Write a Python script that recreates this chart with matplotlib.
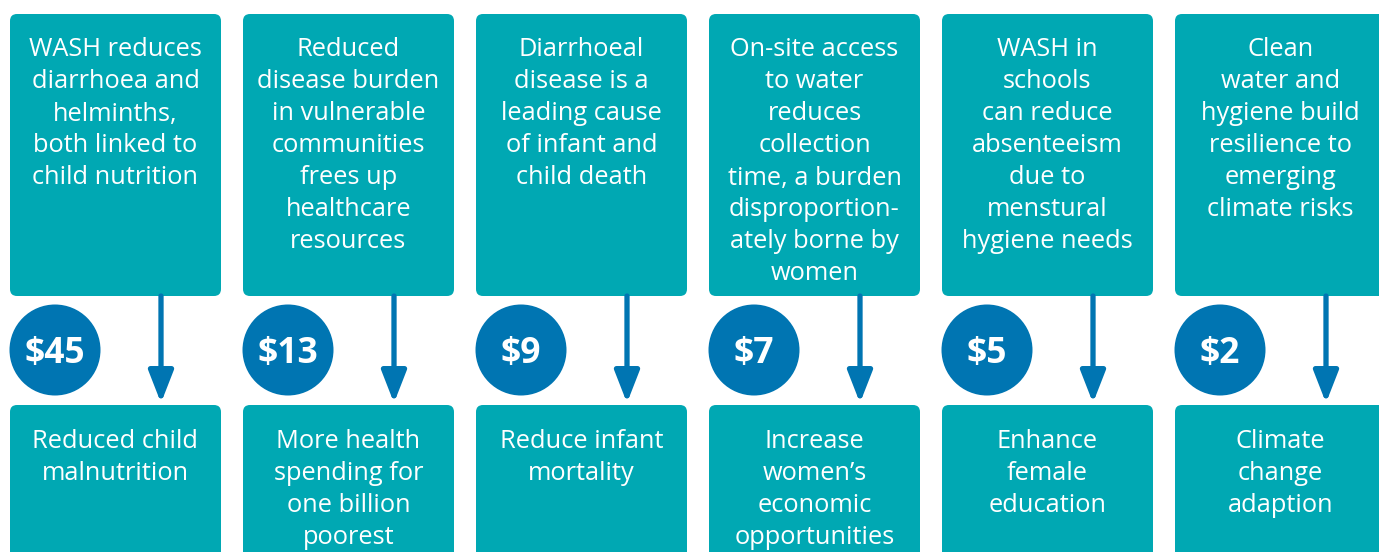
import matplotlib.pyplot as plt
from matplotlib.patches import FancyBboxPatch, Circle

plt.rcParams['font.family'] = ['Open Sans', 'Noto Sans', 'DejaVu Sans']

causes = [
    "WASH reduces\ndiarrhoea and\nhelminths,\nboth linked to\nchild nutrition",
    "Reduced\ndisease burden\nin vulnerable\ncommunities\nfrees up\nhealthcare\nresources",
    "Diarrhoeal\ndisease is a\nleading cause\nof infant and\nchild death",
    "On-site access\nto water\nreduces\ncollection\ntime, a burden\ndisproportion-\nately borne by\nwomen",
    "WASH in\nschools\ncan reduce\nabsenteeism\ndue to\nmenstural\nhygiene needs",
    "Clean\nwater and\nhygiene build\nresilience to\nemerging\nclimate risks",
]
returns = ["$45", "$13", "$9", "$7", "$5", "$2"]
outcomes = [
    "Reduced child\nmalnutrition",
    "More health\nspending for\none billion\npoorest",
    "Reduce infant\nmortality",
    "Increase\nwomen\u2019s\neconomic\nopportunities",
    "Enhance\nfemale\neducation",
    "Climate\nchange\nadaption",
]

teal = "#00A8B3"
blue = "#0075B2"

W, H = 1379, 552
fig = plt.figure(figsize=(W / 100, H / 100), dpi=100)
ax = fig.add_axes([0, 0, 1, 1])
ax.set_xlim(0, W)
ax.set_ylim(H, 0)
ax.axis("off")

x0, step, bw = 10, 233, 211
top_y, top_h = 14, 282
bot_y, bot_h = 405, 200
lh = 32

def lines(text, cx, y):
    for j, ln in enumerate(text.split("\n")):
        ax.text(cx, y + j * lh, ln, color="white", fontsize=18.3,
                ha="center", va="center")

for i in range(len(causes)):
    left = x0 + i * step
    cx = left + bw / 2
    ax.add_patch(FancyBboxPatch((left, top_y), bw, top_h,
                                boxstyle="round,pad=0,rounding_size=7",
                                fc=teal, ec="none"))
    ax.add_patch(FancyBboxPatch((left, bot_y), bw, bot_h,
                                boxstyle="round,pad=0,rounding_size=7",
                                fc=teal, ec="none"))
    lines(causes[i], cx, 50)
    lines(outcomes[i], cx, 441)
    ax.add_patch(Circle((left + 45, 350), 45.5, fc=blue, ec="none"))
    ax.text(left + 45, 354, returns[i], color="white", fontsize=25.5,
            fontweight="bold", ha="center", va="center")
    axx = left + 151
    ax.annotate("", xy=(axx, 403), xytext=(axx, 296),
                arrowprops=dict(arrowstyle="-|>,head_width=0.76,head_length=1.95",
                                lw=3.8, color=blue, shrinkA=0, shrinkB=0))

fig.savefig("out.png", dpi=100)
